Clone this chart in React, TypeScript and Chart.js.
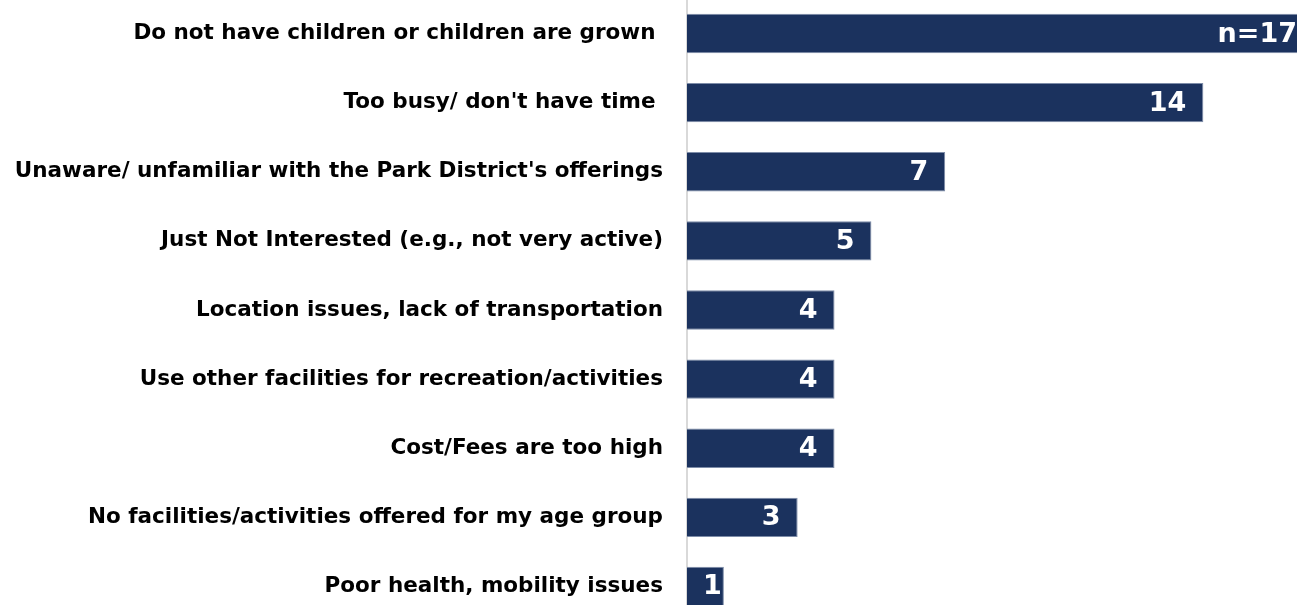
import React, { useEffect, useRef } from "react";
import { Chart, registerables } from "chart.js";

Chart.register(...registerables);

const categories = [
  "Do not have children or children are grown ",
  "Too busy/ don't have time ",
  "Unaware/ unfamiliar with the Park District's offerings",
  "Just Not Interested (e.g., not very active)",
  "Location issues, lack of transportation",
  "Use other facilities for recreation/activities",
  "Cost/Fees are too high",
  "No facilities/activities offered for my age group",
  "Poor health, mobility issues",
];
const values = [17, 14, 7, 5, 4, 4, 4, 3, 1];
const valueLabels = ["n=17", "14", "7", "5", "4", "4", "4", "3", "1"];

const BAR_COLOR = "#1b325e";

const labelPlugin = {
  id: "barEndLabels",
  afterDatasetsDraw(chart: any) {
    const ctx = chart.ctx;
    const meta = chart.getDatasetMeta(0);
    ctx.save();
    ctx.font = "bold 27px 'DejaVu Sans'";
    ctx.fillStyle = "#ffffff";
    ctx.textBaseline = "middle";
    ctx.textAlign = "right";
    meta.data.forEach((bar: any, i: number) => {
      const text = valueLabels[i];
      const w = ctx.measureText(text).width;
      const barW = Math.abs(bar.x - bar.base);
      const pad = barW - w < 32 ? 2 : 17;
      ctx.fillText(text, bar.x - pad, bar.y + 1);
    });
    ctx.restore();
  },
};

export default function App() {
  const ref = useRef<HTMLCanvasElement | null>(null);
  useEffect(() => {
    if (!ref.current) return;
    const chart = new Chart(ref.current, {
      type: "bar",
      data: {
        labels: categories,
        datasets: [
          {
            data: values,
            backgroundColor: BAR_COLOR,
            borderColor: "#7d8ca8",
            borderWidth: 1,
            barPercentage: 0.57,
            categoryPercentage: 1,
          },
        ],
      },
      options: {
        indexAxis: "y",
        animation: false,
        responsive: true,
        maintainAspectRatio: false,
        layout: { padding: 0 },
        plugins: {
          legend: { display: false },
          tooltip: { enabled: false },
        },
        scales: {
          x: {
            display: false,
            min: 0,
            max: 17,
          },
          y: {
            afterFit(scale: any) {
              scale.width = 687;
              scale.paddingTop = 0;
              scale.paddingBottom = 0;
            },
            grid: { color: "transparent", drawTicks: false },
            border: { display: true, color: "#d9d9d9", width: 2 },
            ticks: {
              padding: 24,
              color: "#000000",
              font: { family: "'DejaVu Sans'", weight: "bold", size: 21.5 },
            },
          },
        },
      },
      plugins: [labelPlugin],
    });
    return () => chart.destroy();
  }, []);

  return (
    <div
      style={{
        position: "fixed",
        left: 0,
        top: 0,
        width: 1297,
        height: 605,
        overflow: "hidden",
        background: "#ffffff",
      }}
    >
      <div style={{ position: "absolute", left: 0, top: -1, width: 1314, height: 622 }}>
        <canvas ref={ref} />
      </div>
    </div>
  );
}
